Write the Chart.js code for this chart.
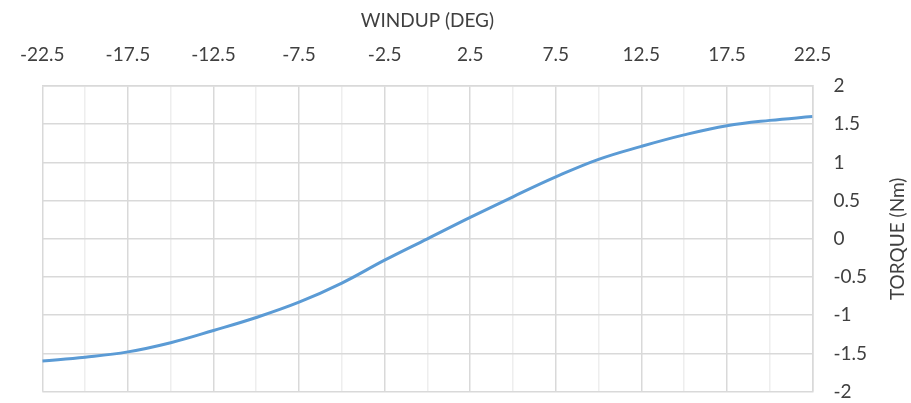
<!DOCTYPE html>
<html>
<head>
<meta charset="utf-8">
<script src="https://cdn.jsdelivr.net/npm/chart.js@4/dist/chart.umd.min.js"></script>
<style>
  html, body { margin: 0; padding: 0; background: #fff; }
  #wrap { width: 911px; height: 403px; }
</style>
</head>
<body>
<div id="wrap"><canvas id="grafico"></canvas></div>
<script>
const windup = [-22.5, -20, -17.5, -15, -12.5, -10, -7.5, -5, -2.5, 0, 2.5, 5, 7.5, 10, 12.5, 15, 17.5, 20, 22.5];
const torque = [-1.6, -1.55, -1.48, -1.36, -1.2, -1.03, -0.83, -0.58, -0.28, 0, 0.28, 0.55, 0.81, 1.04, 1.21, 1.36, 1.48, 1.55, 1.6];
const tituloX = "WINDUP (DEG)";
const tituloY = "TORQUE (Nm)";

const fonte = "Lato, 'Open Sans', sans-serif";

function rotuloX(v) {
  const k = (v + 22.5) / 5;
  return Math.abs(k - Math.round(k)) < 1e-6 ? String(v) : "";
}

// titulo do eixo y lido de baixo para cima (o Chart.js gira ao contrario no lado direito)
const tituloDireita = {
  id: "tituloDireita",
  afterDraw(chart) {
    const ctx = chart.ctx;
    const area = chart.chartArea;
    ctx.save();
    ctx.translate(898, (area.top + area.bottom) / 2);
    ctx.rotate(-Math.PI / 2);
    ctx.font = "19px " + fonte;
    ctx.fillStyle = "#404040";
    ctx.textAlign = "center";
    ctx.textBaseline = "middle";
    ctx.fillText(tituloY, 0, 0);
    ctx.restore();
  }
};

new Chart(document.getElementById("grafico").getContext("2d"), {
  type: "line",
  data: {
    datasets: [{
      data: windup.map((x, i) => ({ x: x, y: torque[i] })),
      borderColor: "#5b9bd5",
      borderWidth: 3,
      pointRadius: 0,
      tension: 0.4,
      fill: false
    }]
  },
  options: {
    responsive: true,
    maintainAspectRatio: false,
    animation: false,
    layout: { padding: 0 },
    plugins: {
      legend: { display: false },
      tooltip: { enabled: false }
    },
    scales: {
      x: {
        type: "linear",
        position: "top",
        min: -22.5,
        max: 22.5,
        afterFit: s => { s.height = 86; },
        title: {
          display: true,
          text: tituloX,
          color: "#404040",
          font: { family: fonte, size: 19 },
          padding: { top: 9, bottom: 0 }
        },
        ticks: {
          stepSize: 2.5,
          autoSkip: false,
          maxRotation: 0,
          padding: 20,
          color: "#404040",
          font: { family: fonte, size: 19 },
          callback: rotuloX
        },
        grid: {
          drawTicks: false,
          lineWidth: 1.5,
          color: c => (c.tick && rotuloX(c.tick.value) !== "") ? "#d9d9d9" : "#eeeeee"
        },
        border: { display: true, color: "#d9d9d9", width: 1.5 }
      },
      y: {
        position: "right",
        min: -2,
        max: 2,
        afterFit: s => { s.width = 98.5; },
        ticks: {
          stepSize: 0.5,
          padding: 0,
          color: "#404040",
          font: { family: fonte, size: 19 },
          callback: v => String(v)
        },
        grid: {
          drawTicks: true,
          tickLength: 21,
          tickColor: "rgba(0,0,0,0)",
          lineWidth: 1.5,
          color: "#d9d9d9"
        },
        border: { display: true, color: "#d9d9d9", width: 1.5 }
      }
    }
  },
  plugins: [tituloDireita]
});
</script>
</body>
</html>
